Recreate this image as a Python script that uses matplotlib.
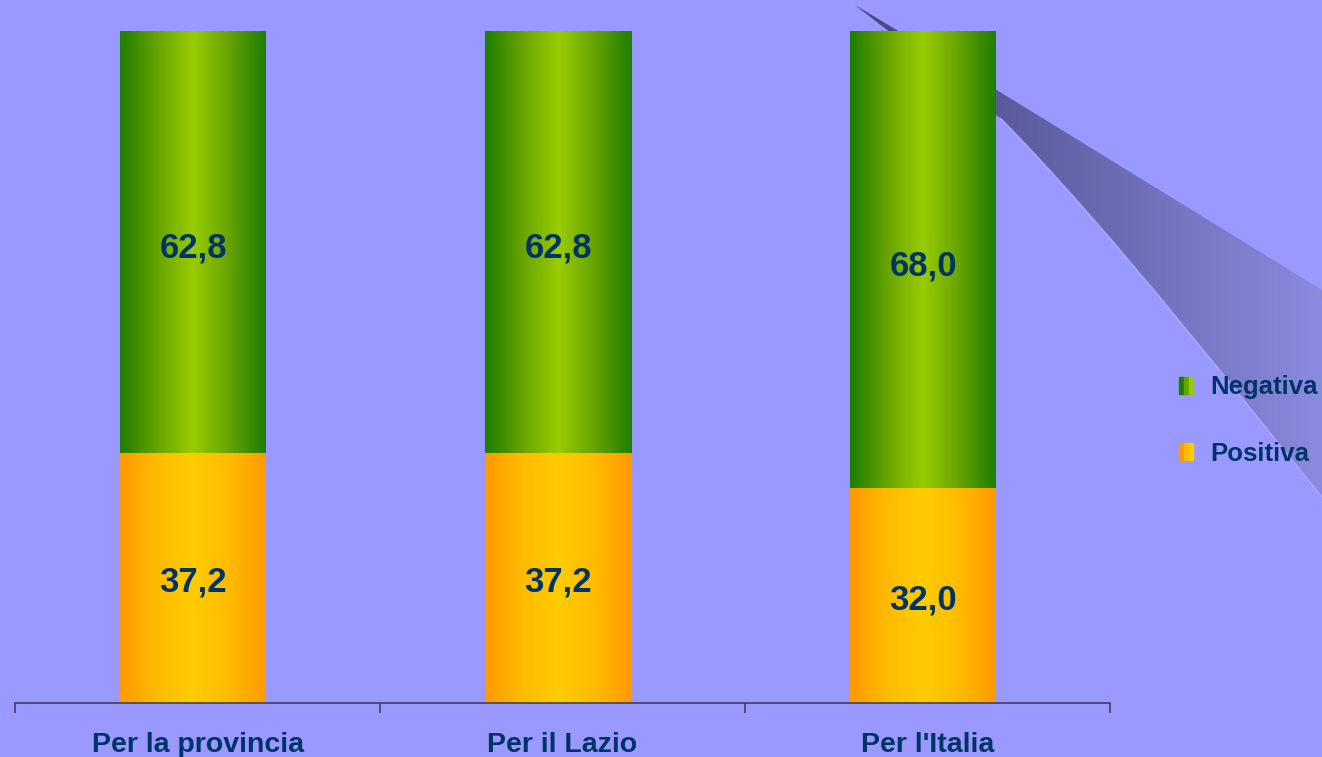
import numpy as np
import matplotlib
matplotlib.use("Agg")
import matplotlib.pyplot as plt
from matplotlib.path import Path
from matplotlib.patches import PathPatch, Patch
from matplotlib.legend_handler import HandlerTuple

categories = ["Per la provincia", "Per il Lazio", "Per l'Italia"]
positiva = [37.2, 37.2, 32.0]
negativa = [62.8, 62.8, 68.0]
series_names = ["Positiva", "Negativa"]

BG = "#9999FF"
TXT = "#003366"
plt.rcParams["font.family"] = ["Liberation Sans", "DejaVu Sans"]

W, H = 1322, 757
fig = plt.figure(figsize=(W / 100, H / 100), dpi=100, facecolor=BG)

# decorative swoosh behind the chart, pixel coordinates
deco = fig.add_axes([0, 0, 1, 1], zorder=0)
deco.set_xlim(0, W)
deco.set_ylim(H, 0)
deco.axis("off")
deco.patch.set_alpha(0)
verts = [(855, 5), (1000, 92), (1322, 290), (1322, 497),
         (1250, 410), (1120, 240), (1000, 118), (855, 5)]
codes = [Path.MOVETO, Path.LINETO, Path.LINETO, Path.LINETO,
         Path.CURVE4, Path.CURVE4, Path.CURVE4, Path.LINETO]
sw = PathPatch(Path(verts, codes), facecolor="none", edgecolor="none")
deco.add_patch(sw)
grad = np.linspace(0, 1, 256).reshape(1, -1)
cm_sw = matplotlib.colors.LinearSegmentedColormap.from_list("sw", ["#45457E", "#8A8ADF"])
im = deco.imshow(grad, cmap=cm_sw, extent=(855, 1322, 497, 5), aspect="auto")
im.set_clip_path(sw)
hl = PathPatch(Path(verts[3:7], [Path.MOVETO, Path.CURVE4, Path.CURVE4, Path.CURVE4]),
               facecolor="none", edgecolor="#A8A8FF", lw=1.2)
deco.add_patch(hl)

ax = fig.add_axes([15 / W, 54 / H, 1095 / W, 672 / H], zorder=1)
ax.patch.set_alpha(0)

x = np.arange(len(categories)) - 0.011
width = 0.40
cm_green = matplotlib.colors.LinearSegmentedColormap.from_list(
    "g", ["#1E7D00", "#66A300", "#99CC00", "#66A300", "#1E7D00"])
cm_orange = matplotlib.colors.LinearSegmentedColormap.from_list(
    "o", ["#FF9900", "#FFBB00", "#FFCC00", "#FFBB00", "#FF9900"])

bars_pos = ax.bar(x, positiva, width, color="none")
bars_neg = ax.bar(x, negativa, width, bottom=positiva, color="none")
for bars, cm in ((bars_pos, cm_orange), (bars_neg, cm_green)):
    for b in bars:
        x0, y0 = b.get_x(), b.get_y()
        g = ax.imshow(grad, cmap=cm, aspect="auto",
                      extent=(x0, x0 + b.get_width(), y0, y0 + b.get_height()), zorder=2)
        g.set_clip_path(b)

for i in range(len(categories)):
    ax.text(x[i], positiva[i] / 2 - 0.6, f"{positiva[i]:.1f}".replace(".", ","),
            ha="center", va="center", fontsize=25, fontweight="bold", color=TXT, zorder=3)
    ax.text(x[i], positiva[i] + negativa[i] / 2 - 0.9, f"{negativa[i]:.1f}".replace(".", ","),
            ha="center", va="center", fontsize=25, fontweight="bold", color=TXT, zorder=3)

ax.set_xlim(-0.5, 2.5)
ax.set_ylim(0, 100)
for s in ["top", "right", "left"]:
    ax.spines[s].set_visible(False)
ax.spines["bottom"].set_color("#404060")
ax.spines["bottom"].set_linewidth(1.2)
ax.set_yticks([])
ax.set_xticks(np.arange(len(categories)))
ax.set_xticklabels(categories, fontsize=20.5, fontweight="bold", color=TXT)
ax.tick_params(axis="x", which="major", length=0, pad=21)
ax.set_xticks([-0.5, 0.5, 1.5, 2.5], minor=True)
ax.tick_params(axis="x", which="minor", length=7, width=1.2, color="#404060")

h_neg = (Patch(color="#1E7D00"), Patch(color="#66A300"), Patch(color="#99CC00"))
h_pos = (Patch(color="#FF9900"), Patch(color="#FFBB00"), Patch(color="#FFCC00"))
leg = fig.legend([h_neg, h_pos], ["Negativa", "Positiva"],
                 handler_map={tuple: HandlerTuple(ndivide=None, pad=0)},
                 loc="upper left", bbox_to_anchor=(1156 / W, 1 - 352 / H),
                 frameon=False, prop={"size": 18.5, "weight": "bold"},
                 handlelength=0.55, handleheight=0.65, handletextpad=0.65,
                 labelspacing=1.65)
for t in leg.get_texts():
    t.set_color(TXT)

fig.savefig("out.png", dpi=100, facecolor=BG)
